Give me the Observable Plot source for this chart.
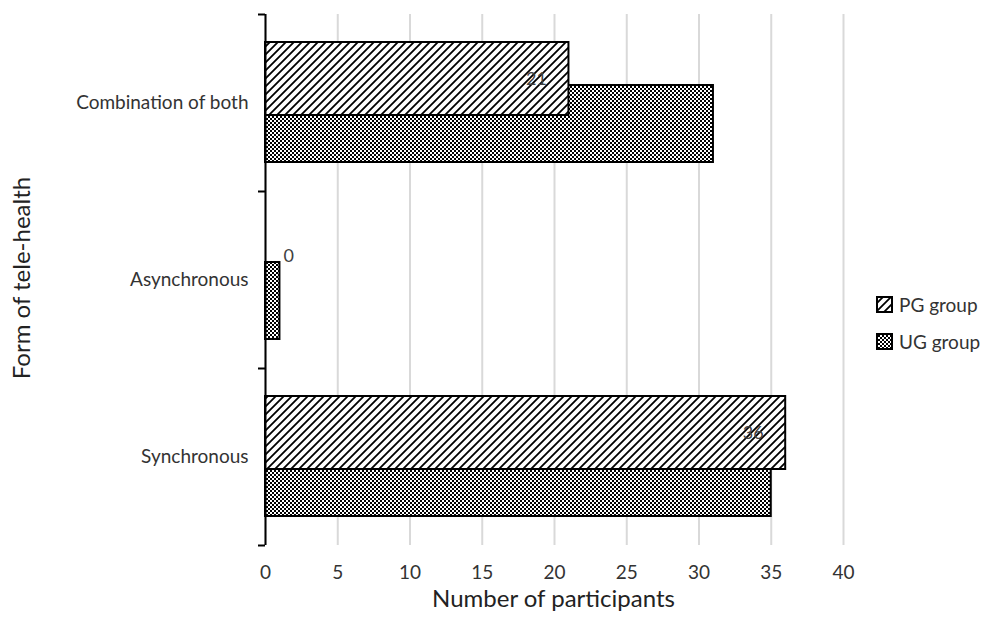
<!DOCTYPE html>
<html>
<head>
<meta charset="utf-8">
<script src="https://cdn.jsdelivr.net/npm/d3@7"></script>
<script src="https://cdn.jsdelivr.net/npm/@observablehq/plot@0.6"></script>
<style>
  html, body { margin: 0; padding: 0; background: #fff; }
  #wrap { position: relative; width: 996px; height: 628px; font-family: Lato, "Open Sans", sans-serif; }
  #legend { position: absolute; left: 876px; top: 286px; font-size: 19px; color: #333; }
  .item { display: flex; align-items: center; height: 37px; }
  .item svg { margin-right: 6px; }
</style>
</head>
<body>
<div id="wrap"><div id="chart"></div><div id="legend"></div></div>
<script>
const categories = ["Combination of both", "Asynchronous", "Synchronous"];
const pgValues = [21, 0, 36];
const ugValues = [31, 1, 35];
const groups = ["PG group", "UG group"];
const xTicks = [0, 5, 10, 15, 20, 25, 30, 35, 40];
const xTitle = "Number of participants";
const yTitle = "Form of tele-health";

const pg = categories.map((c, i) => ({category: c, index: i, value: pgValues[i]}));
const ug = categories.map((c, i) => ({category: c, index: i, value: ugValues[i]}));

const chart = Plot.plot({
  width: 996,
  height: 628,
  marginLeft: 265,
  marginRight: 153,
  marginTop: 14,
  marginBottom: 83,
  style: {fontFamily: "Lato, 'Open Sans', sans-serif", fontSize: "19px", color: "#333", background: "#fff"},
  x: {domain: [0, 40], label: null},
  y: {domain: [0, 3], reverse: true, label: null},
  marks: [
    Plot.ruleX(xTicks, {x: d => d, y1: 0, y2: 3, stroke: "#d9d9d9", strokeWidth: 2}),
    Plot.rectX(ug, {x1: 0, x2: "value", y1: "index", y2: d => d.index + 1, insetTop: 71, insetBottom: 29, fill: "url(#ugPat)", stroke: "#000", strokeWidth: 2}),
    Plot.rectX(pg.filter(d => d.value > 0), {x1: 0, x2: "value", y1: "index", y2: d => d.index + 1, insetTop: 28, insetBottom: 76, fill: "url(#pgPat)", stroke: "#000", strokeWidth: 2}),
    Plot.ruleX([0], {y1: 0, y2: 3, stroke: "#000", strokeWidth: 2}),
    Plot.axisY([0, 1, 2, 3], {tickSize: 7, tickFormat: () => "", stroke: "#000", strokeWidth: 2, label: null}),
    Plot.axisY([0.5, 1.5, 2.5], {tickSize: 0, tickPadding: 17, tickFormat: d => categories[Math.floor(d)], fontSize: 19, fill: "#333", label: null}),
    Plot.axisX(xTicks, {tickSize: 0, tickPadding: 20, fontSize: 19, fill: "#333", label: null}),
    Plot.text(pg.filter(d => d.value > 0), {x: "value", y: d => d.index + 0.5, text: d => String(d.value), dy: -24, dx: -22, textAnchor: "end", fill: "#404040", fontSize: 18}),
    Plot.text(pg.filter(d => d.value === 0), {x: "value", y: d => d.index + 0.5, text: d => String(d.value), dy: -24, dx: 18, textAnchor: "start", fill: "#404040", fontSize: 18}),
    Plot.text([xTitle], {frameAnchor: "bottom", dy: 61, dx: -1, fontSize: 24, fill: "#222"}),
    Plot.text([yTitle], {frameAnchor: "left", textAnchor: "middle", dx: -243, dy: -2, rotate: -90, fontSize: 24, fill: "#222"})
  ]
});

const defs = `
<defs>
  <pattern id="pgPat" patternUnits="userSpaceOnUse" width="8" height="8">
    <rect width="8" height="8" fill="#fff"/>
    <path d="M-2,2 L2,-2 M0,8 L8,0 M6,10 L10,6" stroke="#000" stroke-width="1.8"/>
  </pattern>
  <pattern id="ugPat" patternUnits="userSpaceOnUse" width="4" height="4">
    <rect width="4" height="4" fill="#fff"/>
    <rect x="0" y="0" width="2" height="2" fill="#000"/>
    <rect x="2" y="2" width="2" height="2" fill="#000"/>
  </pattern>
</defs>`;
chart.insertAdjacentHTML("afterbegin", defs);
document.getElementById("chart").appendChild(chart);

const legend = document.getElementById("legend");
const pats = ["pgPat", "ugPat"];
groups.forEach((g, i) => {
  const div = document.createElement("div");
  div.className = "item";
  div.innerHTML = `<svg width="17" height="17"><rect x="1" y="1" width="15" height="15" fill="url(#${pats[i]})" stroke="#000" stroke-width="2"/></svg><span>${g}</span>`;
  legend.appendChild(div);
});
</script>
</body>
</html>
